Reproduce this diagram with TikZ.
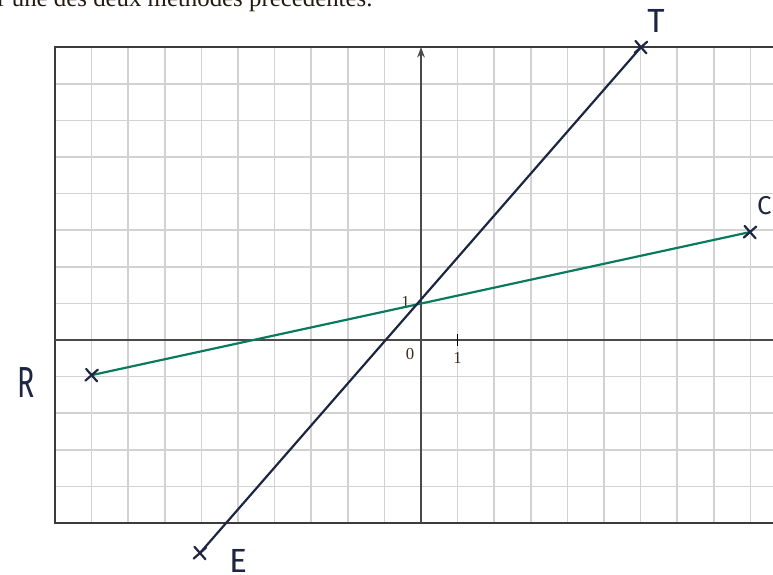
\documentclass[tikz,border=0pt]{standalone}
\usepackage{fontspec}
\setmainfont{Liberation Serif}
\newfontfamily\handfont{Fira Sans}
\usetikzlibrary{arrows.meta}
\definecolor{navy}{HTML}{1C2541}
\definecolor{dgreen}{HTML}{0A7A5E}
\definecolor{gridc}{HTML}{D2D2D2}
\definecolor{axisc}{HTML}{4A4A4A}
\definecolor{labc}{HTML}{3A2A1A}
\tikzset{
  gridline/.style={draw=gridc, line width=1.3pt},
  framebox/.style={draw=axisc!80!black, line width=1.6pt},
  axisline/.style={draw=axisc, line width=1.2pt, -{Stealth[length=8pt,width=6pt]}},
  crossmark/.style={draw=navy, line width=1.7pt, line cap=round},
  lineblue/.style={draw=navy, line width=1.7pt},
  linegreen/.style={draw=dgreen, line width=1.7pt},
  numlab/.style={text=labc, font=\fontsize{13}{14}\selectfont, inner sep=0pt},
  handlab/.style={text=navy, font=\handfont\fontsize{26}{28}\selectfont, inner sep=0pt}
}
\begin{document}
\begin{tikzpicture}[x=1cm,y=1cm]
\useasboundingbox (-11.503,-6.393) rectangle (9.617,9.290);
% top text (cropped)
\node[anchor=base west, inner sep=0pt, text=labc!60!black, font=\fontsize{19.3}{22}\selectfont] (toptext) at (-11.58,9.10) {r une des deux méthodes précédentes.};
% grid
\begin{scope}
\clip (-10,-5) rectangle (10,8);
\draw[gridline] (-10,-5) grid[step=1] (10,8);
\end{scope}
\draw[framebox] (-10,-5) rectangle (10,8);
% axes
\coordinate (xs) at (-10,0);
\coordinate (xe) at (10,0);
\coordinate (ys) at (0,-5);
\coordinate (ye) at (0,8);
\draw[axisline] (xs) -- (xe);
\draw[axisline] (ys) -- (ye);
\coordinate (tk) at (1,0);
\draw[draw=black, line width=1.1pt] ([yshift=-0.16cm]tk) -- ([yshift=0.16cm]tk);
\node[numlab] (l0) at (-0.3,-0.38) {0};
\node[numlab] (l1x) at (1.0,-0.5) {1};
\node[numlab] (l1y) at (-0.42,1.05) {1};
% points
\coordinate (R) at (-9,-0.96);
\coordinate (C) at (8.99,2.95);
\coordinate (T) at (6.01,8.0);
\coordinate (E) at (-6.04,-5.82);
\draw[linegreen] (R) -- (C);
\draw[lineblue] (E) -- (T);
% crosses
\foreach \p in {R,C,T,E}{
  \draw[crossmark] ([shift={(-0.17,-0.15)}]\p) -- ([shift={(0.17,0.15)}]\p);
  \draw[crossmark] ([shift={(-0.15,0.17)}]\p) -- ([shift={(0.15,-0.17)}]\p);
}
% handwritten labels
\node[handlab] (Tl) at (6.42,8.72) {T};
\node[handlab, font=\handfont\fontsize{20}{22}\selectfont] (Cl) at (9.38,3.68) {C};
\node[handlab, xscale=0.85, yscale=1.3] (Rl) at (-10.79,-1.17) {R};
\node[handlab] (El) at (-5.0,-6.05) {E};
\end{tikzpicture}
\end{document}
